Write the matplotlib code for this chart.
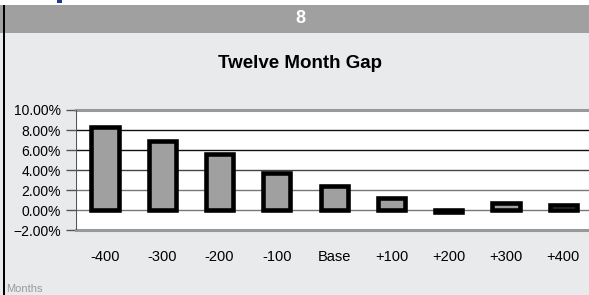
import matplotlib
matplotlib.use("Agg")
import matplotlib.pyplot as plt
from matplotlib.ticker import PercentFormatter
from matplotlib.patches import Rectangle

categories = ["-400", "-300", "-200", "-100", "Base", "+100", "+200", "+300", "+400"]
gap_pct = [8.28, 6.93, 5.61, 3.73, 2.39, 1.21, -0.2, 0.68, 0.52]
y_ticks = [-2, 0, 2, 4, 6, 8, 10]

W, H = 589, 295
fig = plt.figure(figsize=(W / 100, H / 100), dpi=100)
fig.patch.set_facecolor("#e9eaec")
plt.rcParams["font.family"] = ["Liberation Sans", "DejaVu Sans"]

def fx(px):
    return px / W

def fy(py):
    return 1 - py / H

# top white strip, header band, left border
fig.add_artist(Rectangle((0, fy(5)), 1, 5 / H, transform=fig.transFigure,
                         facecolor="white", edgecolor="none", zorder=0))
fig.add_artist(Rectangle((fx(57), fy(3)), 5 / W, 3 / H, transform=fig.transFigure,
                         facecolor="#1f3a93", edgecolor="none", zorder=1))
fig.add_artist(Rectangle((0, fy(33)), 1, 28 / H, transform=fig.transFigure,
                         facecolor="#a0a0a0", edgecolor="none", zorder=0))
fig.add_artist(Rectangle((fx(3), 0), 1.5 / W, fy(5), transform=fig.transFigure,
                         facecolor="black", edgecolor="none", zorder=2))
fig.text(fx(300), fy(18.5), "8", color="white", fontsize=13, fontweight="bold",
         ha="center", va="center")
fig.text(fx(300), fy(63), "Twelve Month Gap", color="black", fontsize=13.5,
         fontweight="bold", ha="center", va="center")
fig.text(fx(6), fy(289), "Months", color="#9a9a9a", fontsize=8,
         ha="left", va="center")

# main axes
left, right = 76.3, 592.0
top, bottom = 110.0, 230.3
ax = fig.add_axes([fx(left), fy(bottom), fx(right - left), (bottom - top) / H])
ax.set_facecolor("white")
x = list(range(len(categories)))
ax.bar(x, gap_pct, width=0.475, color="#a0a0a0", edgecolor="black",
       linewidth=3.3, zorder=3)
ax.set_xlim(-0.5, len(categories) - 0.5)
ax.set_ylim(-2, 10)
ax.set_yticks(y_ticks)
ax.yaxis.set_major_formatter(PercentFormatter(decimals=2))
grid_colors = {0: "#777777", 2: "#777777", 4: "#444444", 6: "#111111", 8: "#111111"}
for v, c in grid_colors.items():
    ax.axhline(v, color=c, linewidth=1.0, zorder=1)
ax.set_xticks(x)
ax.set_xticklabels(categories)
for s in ["left", "right"]:
    ax.spines[s].set_visible(False)
ax.spines["top"].set_color("#999999")
ax.spines["top"].set_linewidth(2.2)
ax.spines["bottom"].set_color("#999999")
ax.spines["bottom"].set_linewidth(2.2)
ax.axvline(-0.5, color="#555555", linewidth=1.5, zorder=4)
ax.tick_params(axis="y", length=7, width=1, color="#555555", labelsize=10,
               pad=4, labelcolor="black")
ax.tick_params(axis="x", length=0, labelsize=10.5, pad=14, labelcolor="black")

fig.savefig("out.png", dpi=100, facecolor=fig.get_facecolor())
